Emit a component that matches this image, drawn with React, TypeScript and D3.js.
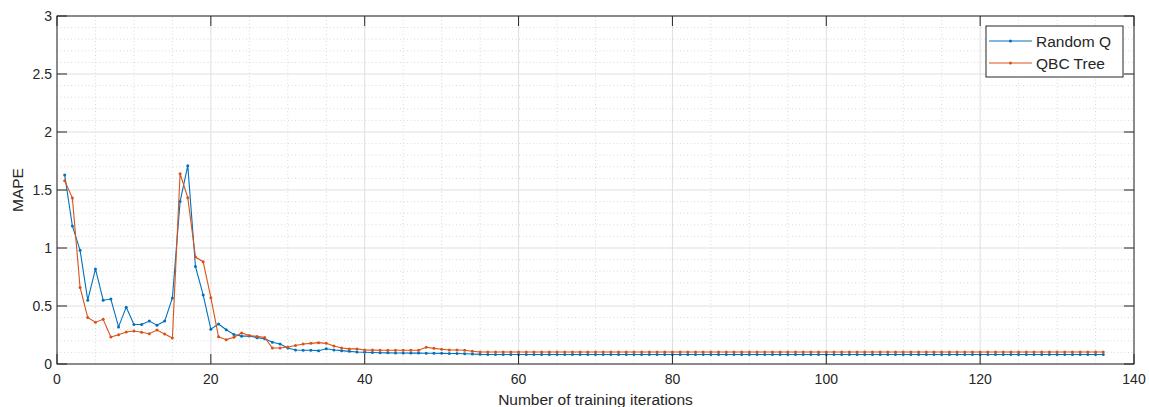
import React, { useEffect, useRef } from "react";
import * as d3 from "d3";

// MAPE per training iteration (iterations 1..136)
const randomQ = [
  1.63, 1.19, 0.98, 0.55, 0.82, 0.55, 0.56, 0.32, 0.49, 0.34,
  0.34, 0.37, 0.335, 0.37, 0.57, 1.40, 1.71, 0.84, 0.595, 0.30,
  0.345, 0.295, 0.255, 0.24, 0.242, 0.227, 0.218, 0.187, 0.172, 0.138,
  0.121, 0.118, 0.118, 0.115, 0.132, 0.121, 0.115, 0.109, 0.104, 0.101,
  0.099, 0.097, 0.096, 0.095, 0.095, 0.094, 0.094, 0.093, 0.093, 0.092,
  0.091, 0.090, 0.088, 0.086, 0.083, 0.082, 0.082, 0.082, 0.082, 0.082,
  0.082, 0.082, 0.082, 0.082, 0.082, 0.082, 0.082, 0.082, 0.082, 0.082,
  0.082, 0.082, 0.082, 0.082, 0.082, 0.082, 0.082, 0.082, 0.082, 0.082,
  0.082, 0.082, 0.082, 0.082, 0.082, 0.082, 0.082, 0.082, 0.082, 0.082,
  0.082, 0.082, 0.082, 0.082, 0.082, 0.082, 0.082, 0.082, 0.082, 0.082,
  0.082, 0.082, 0.082, 0.082, 0.082, 0.082, 0.082, 0.082, 0.082, 0.082,
  0.082, 0.082, 0.082, 0.082, 0.082, 0.082, 0.082, 0.082, 0.082, 0.082,
  0.082, 0.082, 0.082, 0.082, 0.082, 0.082, 0.082, 0.082, 0.082, 0.082,
  0.082, 0.082, 0.082, 0.082, 0.082, 0.082,
];

const qbcTree = [
  1.58, 1.43, 0.66, 0.40, 0.36, 0.385, 0.233, 0.253, 0.276, 0.284,
  0.273, 0.261, 0.293, 0.259, 0.224, 1.64, 1.434, 0.922, 0.882, 0.572,
  0.235, 0.21, 0.23, 0.268, 0.245, 0.238, 0.228, 0.138, 0.138, 0.146,
  0.16, 0.172, 0.178, 0.184, 0.178, 0.155, 0.138, 0.13, 0.13, 0.121,
  0.12, 0.118, 0.118, 0.118, 0.118, 0.118, 0.118, 0.144, 0.135, 0.127,
  0.121, 0.121, 0.118, 0.11, 0.104, 0.103, 0.103, 0.103, 0.103, 0.103,
  0.103, 0.103, 0.103, 0.103, 0.103, 0.103, 0.103, 0.103, 0.103, 0.103,
  0.103, 0.103, 0.103, 0.103, 0.103, 0.103, 0.103, 0.103, 0.103, 0.103,
  0.103, 0.103, 0.103, 0.103, 0.103, 0.103, 0.103, 0.103, 0.103, 0.103,
  0.103, 0.103, 0.103, 0.103, 0.103, 0.103, 0.103, 0.103, 0.103, 0.103,
  0.103, 0.103, 0.103, 0.103, 0.103, 0.103, 0.103, 0.103, 0.103, 0.103,
  0.103, 0.103, 0.103, 0.103, 0.103, 0.103, 0.103, 0.103, 0.103, 0.103,
  0.103, 0.103, 0.103, 0.103, 0.103, 0.103, 0.103, 0.103, 0.103, 0.103,
  0.103, 0.103, 0.103, 0.103, 0.103, 0.103,
];

const seriesNames = ["Random Q", "QBC Tree"];
const seriesColors = ["#0072BD", "#D95319"];
const xTicks = [0, 20, 40, 60, 80, 100, 120, 140];
const yTicks = [0, 0.5, 1, 1.5, 2, 2.5, 3];
const xMinor = [5, 10, 15, 25, 30, 35, 45, 50, 55, 65, 70, 75, 85, 90, 95, 105, 110, 115, 125, 130, 135];
const yMinor = [0.1, 0.2, 0.3, 0.4, 0.6, 0.7, 0.8, 0.9, 1.1, 1.2, 1.3, 1.4, 1.6, 1.7, 1.8, 1.9, 2.1, 2.2, 2.3, 2.4, 2.6, 2.7, 2.8, 2.9];

const W = 1149, H = 407;
const margin = { left: 57, right: 15, top: 16, bottom: 43 };
const font = "'Liberation Sans', Arial, Helvetica, sans-serif";
const ink = "#262626";

export default function App() {
  const ref = useRef<SVGSVGElement>(null);

  useEffect(() => {
    const svg = d3.select(ref.current);
    svg.selectAll("*").remove();
    const x = d3.scaleLinear().domain([0, 140]).range([margin.left, W - margin.right]);
    const y = d3.scaleLinear().domain([0, 3]).range([H - margin.bottom, margin.top]);
    const [x0, x1] = x.range();
    const [y0, y1] = y.range();

    svg.append("rect").attr("width", W).attr("height", H).attr("fill", "#fff");

    // minor grid (dotted)
    const g = svg.append("g");
    g.selectAll(".xminor").data(xMinor).join("line")
      .attr("x1", d => x(d)).attr("x2", d => x(d)).attr("y1", y0).attr("y2", y1)
      .attr("stroke", "#cfcfcf").attr("stroke-width", 0.8).attr("stroke-dasharray", "1,2.5");
    g.selectAll(".yminor").data(yMinor).join("line")
      .attr("y1", d => y(d)).attr("y2", d => y(d)).attr("x1", x0).attr("x2", x1)
      .attr("stroke", "#cfcfcf").attr("stroke-width", 0.8).attr("stroke-dasharray", "1,2.5");
    // major grid
    g.selectAll(".xmajor").data(xTicks).join("line")
      .attr("x1", d => x(d)).attr("x2", d => x(d)).attr("y1", y0).attr("y2", y1)
      .attr("stroke", "#dfdfdf").attr("stroke-width", 1);
    g.selectAll(".ymajor").data(yTicks).join("line")
      .attr("y1", d => y(d)).attr("y2", d => y(d)).attr("x1", x0).attr("x2", x1)
      .attr("stroke", "#dfdfdf").attr("stroke-width", 1);

    // data lines
    const series = [randomQ, qbcTree];
    const line = d3.line<number>().x((d, i) => x(i + 1)).y(d => y(d));
    series.forEach((data, k) => {
      svg.append("path").datum(data).attr("d", line)
        .attr("fill", "none").attr("stroke", seriesColors[k]).attr("stroke-width", 1.1);
      svg.append("g").selectAll("circle").data(data).join("circle")
        .attr("cx", (d, i) => x(i + 1)).attr("cy", d => y(d)).attr("r", 1.5)
        .attr("fill", seriesColors[k]);
    });

    // box + ticks
    const ax = svg.append("g").attr("stroke", ink).attr("stroke-width", 1);
    ax.append("rect").attr("x", x0).attr("y", y1).attr("width", x1 - x0).attr("height", y0 - y1)
      .attr("fill", "none");
    const tl = 10;
    xTicks.forEach(t => {
      ax.append("line").attr("x1", x(t)).attr("x2", x(t)).attr("y1", y0).attr("y2", y0 - tl);
      ax.append("line").attr("x1", x(t)).attr("x2", x(t)).attr("y1", y1).attr("y2", y1 + tl);
    });
    yTicks.forEach(t => {
      ax.append("line").attr("y1", y(t)).attr("y2", y(t)).attr("x1", x0).attr("x2", x0 + tl);
      ax.append("line").attr("y1", y(t)).attr("y2", y(t)).attr("x1", x1).attr("x2", x1 - tl);
    });

    const txt = svg.append("g").attr("fill", ink).attr("font-family", font);
    txt.selectAll(".xl").data(xTicks).join("text")
      .attr("x", d => x(d)).attr("y", y0 + 20).attr("text-anchor", "middle")
      .attr("font-size", 14).text(d => String(d));
    txt.selectAll(".yl").data(yTicks).join("text")
      .attr("x", x0 - 5).attr("y", d => y(d) + 5).attr("text-anchor", "end")
      .attr("font-size", 14).text(d => String(d));
    txt.append("text").attr("x", (x0 + x1) / 2).attr("y", 405).attr("text-anchor", "middle")
      .attr("font-size", 15.5).text("Number of training iterations");
    txt.append("text").attr("transform", `translate(23,${(y0 + y1) / 2}) rotate(-90)`)
      .attr("text-anchor", "middle").attr("font-size", 15.5).text("MAPE");

    // legend
    const lg = svg.append("g").attr("transform", `translate(${x1 - 11},${y1 + 10})`);
    lg.append("rect").attr("x", -137).attr("y", 0).attr("width", 137).attr("height", 51)
      .attr("fill", "#fff").attr("stroke", ink).attr("stroke-width", 1);
    seriesNames.forEach((name, k) => {
      const ly = 15 + k * 22;
      lg.append("line").attr("x1", -134).attr("x2", -91).attr("y1", ly).attr("y2", ly)
        .attr("stroke", seriesColors[k]).attr("stroke-width", 1.1);
      lg.append("circle").attr("cx", -112.5).attr("cy", ly).attr("r", 1.5).attr("fill", seriesColors[k]);
      lg.append("text").attr("x", -87).attr("y", ly + 5.5).attr("font-family", font)
        .attr("font-size", 15.5).attr("fill", ink).text(name);
    });
  }, []);

  return (
    <svg ref={ref} width={W} height={H}
      style={{ position: "absolute", left: 0, top: 0, display: "block" }} />
  );
}
